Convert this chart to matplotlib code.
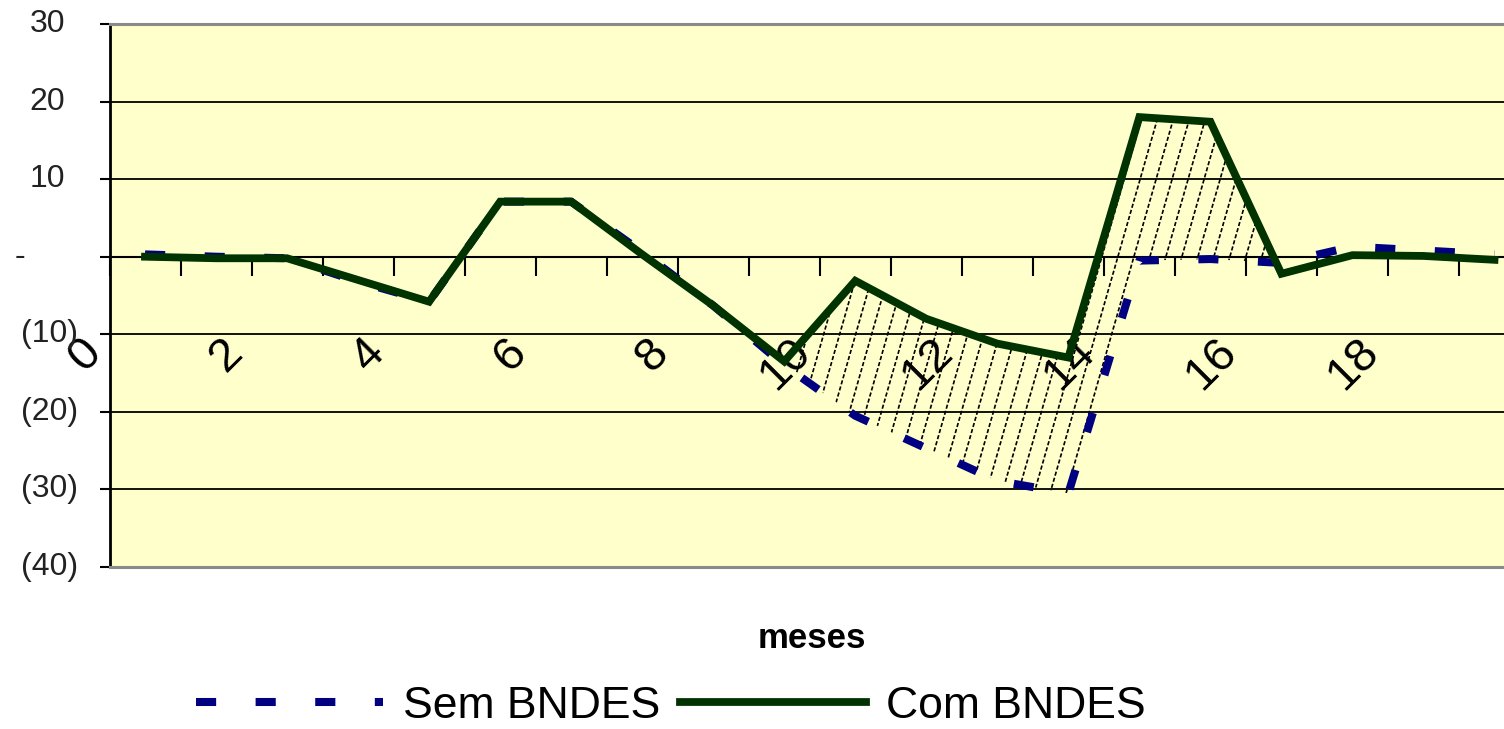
import numpy as np
import matplotlib.pyplot as plt
from matplotlib.collections import LineCollection
from matplotlib.path import Path

plt.rcParams['font.family'] = ['Liberation Sans', 'DejaVu Sans']

# valores (20 meses)
meses = np.arange(20)
sem_bndes = [0.3, 0.0, -0.2, -3.2, -5.8, 7.1, 7.1, 0.6, -6.3, -14.0,
             -20.5, -24.7, -28.9, -30.5, -0.5, -0.3, -0.8, 1.3, 0.8, 0.3]
com_bndes = [0.0, -0.2, -0.2, -3.0, -5.8, 7.1, 7.1, 0.3, -6.3, -13.5,
             -3.1, -8.0, -11.2, -13.0, 18.0, 17.4, -2.2, 0.2, 0.1, -0.4]

x_labels = ['0', '2', '4', '6', '8', '10', '12', '14', '16', '18']
y_ticks = [30, 20, 10, 0, -10, -20, -30, -40]
y_labels = ['30', '20', '10', '-', '(10)', '(20)', '(30)', '(40)']

W, H = 1504, 729
fig = plt.figure(figsize=(W / 100, H / 100), dpi=100)
ax_l, ax_r, ax_t, ax_b = 109.5, 1530, 24, 567
ax = fig.add_axes([ax_l / W, 1 - ax_b / H, (ax_r - ax_l) / W, (ax_b - ax_t) / H])
ax.set_facecolor('#FFFFCC')
ax.set_xlim(-0.5, 19.5)
ax.set_ylim(-40, 30)

# linhas
line_sem, = ax.plot(meses, sem_bndes, color='#000080', lw=5.8,
                    linestyle=(0, (2.5, 4.9)), dash_capstyle='butt', zorder=3,
                    label='Sem BNDES')
line_com, = ax.plot(meses, com_bndes, color='#003300', lw=5.6,
                    solid_joinstyle='miter', zorder=3.5, label='Com BNDES')

# area onde "Com" fica acima de "Sem", hachurada com linhas inclinadas
sem_arr = np.array(sem_bndes)
com_arr = np.array(com_bndes)
area = ax.fill_between(meses, sem_arr, com_arr, where=com_arr >= sem_arr,
                       interpolate=True, facecolor='none', edgecolor='none',
                       zorder=2.7)
px_x = (ax_r - ax_l) / 20.0
px_y = (ax_b - ax_t) / 70.0
run = (70 * px_y / np.tan(np.radians(74))) / px_x
segs = [[(c, -40), (c + run, 30)] for c in np.arange(-4, 22, 16 / px_x)]
hatch = LineCollection(segs, colors='black', linewidths=1.2,
                       linestyles=[(0, (2.5, 1.3))], zorder=2.7)
ax.add_collection(hatch)
hatch.set_clip_path(Path.make_compound_path(*area.get_paths()), ax.transData)

# eixos
ax.spines['bottom'].set_position(('data', 0))
ax.spines['bottom'].set_linewidth(1.5)
ax.spines['left'].set_linewidth(2)
ax.spines['top'].set_color('#8a8a8a')
ax.spines['top'].set_linewidth(2.2)
ax.spines['right'].set_visible(False)
ax.axhline(-40, color='#8a8a8a', lw=2.2, clip_on=False, zorder=2.6)

ax.set_xticks(np.arange(-0.5, 19, 2), x_labels)
ax.set_xticks(np.arange(-0.5, 20, 1), minor=True)
ax.tick_params(axis='x', which='both', direction='out', length=13.7,
               width=1.5, pad=39, labelsize=34, labelrotation=45)
plt.setp(ax.get_xticklabels(), ha='right', va='top')

ax.set_yticks(y_ticks)
ax.set_yticklabels([])
ax.tick_params(axis='y', direction='out', length=7.2, width=1.5)
ax.set_axisbelow(True)
ax.yaxis.grid(True, color='black', lw=1.3)

ytr = ax.get_yaxis_transform()
for v, lab in zip(y_ticks, y_labels):
    if lab == '-':
        ax.text(-0.0665, v, lab, transform=ytr, ha='left', va='center',
                fontsize=23, color='#222222')
    elif lab.startswith('('):
        ax.text(-0.0222, v, lab, transform=ytr, ha='right', va='center',
                fontsize=23, color='#222222')
    else:
        ax.text(-0.0313, v, lab, transform=ytr, ha='right', va='center',
                fontsize=23, color='#222222')

fig.text(812 / W, 1 - 638 / H, 'meses', ha='center', va='center',
         fontsize=25, fontweight='bold')

fig.legend(handles=[line_sem, line_com], loc='center',
           bbox_to_anchor=(671 / W, 1 - 706 / H), ncol=2, frameon=False,
           fontsize=32, handlelength=4.2, handletextpad=0.45,
           columnspacing=0.45, borderpad=0)

fig.savefig('out.png', dpi=100)
